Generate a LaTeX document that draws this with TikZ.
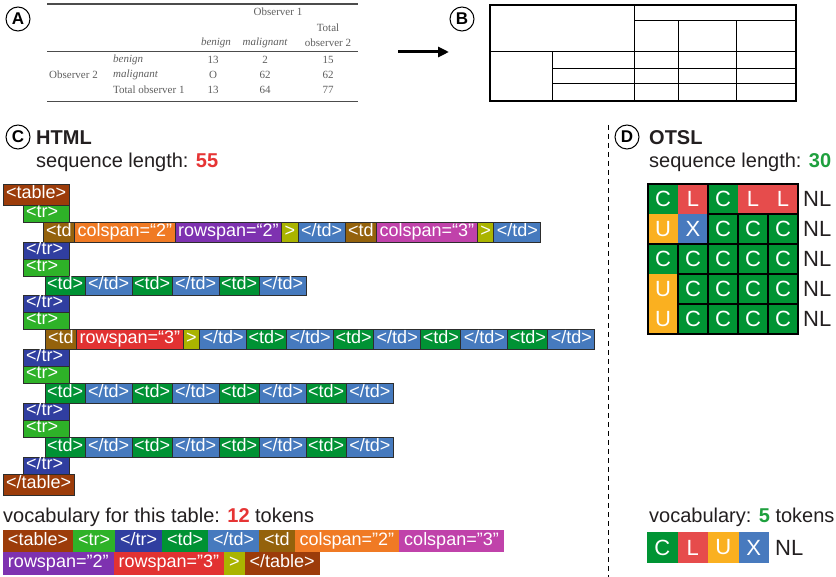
\documentclass[tikz,border=0pt]{standalone}
\usepackage{fontspec}
\setmainfont{Liberation Sans}
\newfontfamily\tabserif{Liberation Serif}
\usetikzlibrary{arrows.meta}

% token colours
\definecolor{cTable}{RGB}{156,60,10}
\definecolor{cTr}{RGB}{46,178,40}
\definecolor{cTrEnd}{RGB}{48,62,160}
\definecolor{cTd}{RGB}{0,146,52}
\definecolor{cTdEnd}{RGB}{70,122,190}
\definecolor{cTdOpen}{RGB}{148,98,12}
\definecolor{cColTwo}{RGB}{240,122,36}
\definecolor{cRowTwo}{RGB}{126,50,176}
\definecolor{cGt}{RGB}{170,180,0}
\definecolor{cColThree}{RGB}{192,66,170}
\definecolor{cRowThree}{RGB}{226,50,50}
% OTSL colours
\definecolor{otslC}{RGB}{0,148,52}
\definecolor{otslL}{RGB}{230,76,76}
\definecolor{otslU}{RGB}{250,176,32}
\definecolor{otslX}{RGB}{72,122,190}
% text colours
\definecolor{bodyink}{RGB}{35,31,32}
\definecolor{numRed}{RGB}{230,52,52}
\definecolor{numGreen}{RGB}{30,160,62}
\definecolor{tabgray}{RGB}{95,95,95}
\definecolor{tokline}{RGB}{45,45,45}

\newcommand\bodyfont{\fontsize{20}{24}\selectfont}
\newcommand\tokfont{\fontsize{18}{20}\selectfont}
\newcommand\cellfont{\fontsize{22}{24}\selectfont}
\newcommand\tabfont{\tabserif\fontsize{11}{13}\selectfont}

% \tokat[options]{name}{position}{fill}{height}{text}
\newcommand\tokat[6][]{\node[tok,fill=#4,minimum height=#5pt,#1] (#2) at (#3) {#6};}
% an opening <td> token: \tdtok{name}{position}{height}
\newcommand\tdtok[3]{\tokat[narrow]{#1}{#2}{cTd}{#3}{<td>}}
% a closing </td> token: \tdendtok{name}{position}{height}
\newcommand\tdendtok[3]{\tokat{#1}{#2}{cTdEnd}{#3}{</td>}}
% \vtokat{name}{position}{fill}{height}{text}
\newcommand\vtokat[5]{\node[vtok,fill=#3,minimum height=#4pt] (#1) at (#2) {#5};}

\tikzset{
  tok/.style={draw=tokline, line width=0.9pt, text=white, font=\tokfont,
    inner xsep=3pt, inner ysep=0pt, outer sep=0pt,
    text height=12.5pt, text depth=4pt, anchor=north west},
  narrow/.style={inner xsep=2pt},
  trbox/.style={tok, minimum width=46pt, text width=40pt, align=left},
  vtok/.style={text=white, font=\tokfont, inner xsep=5pt, inner ysep=0pt,
    outer sep=0pt, text height=12.5pt, text depth=4pt, anchor=north west},
  cell/.style={minimum size=30pt, inner sep=0pt, outer sep=0pt, text=white,
    font=\cellfont},
  lbl/.style={circle, draw=black, line width=1pt, minimum size=24pt,
    inner sep=0pt, font=\fontsize{17}{17}\selectfont\bfseries},
  tabtxt/.style={font=\tabfont, text=tabgray, inner sep=0pt},
  body/.style={font=\bodyfont, text=bodyink, inner sep=0pt, anchor=base west},
  grp/.style={draw=black, line width=1.6pt},
}

\begin{document}
\begin{tikzpicture}[x=1pt,y=-1pt]
\useasboundingbox[fill=white] (0,0) rectangle (836,577);

% ---------------- panel A: source table ----------------
\node[lbl] (labA) at (18,19) {A};
\draw[tabgray!80!black, line width=1.3pt] (47,4) -- (358,4);
\draw[tabgray!80!black, line width=1pt] (47,52) -- (358,52);
\draw[tabgray!80!black, line width=1pt] (47,102) -- (358,102);
\node[tabtxt] (aObs1) at (278,12) {Observer 1};
\node[tabtxt] (aHb) at (216,43) {\itshape benign};
\node[tabtxt] (aHm) at (265,43) {\itshape malignant};
\node[tabtxt] (aHt1) at (328,28) {Total};
\node[tabtxt] (aHt2) at (328,43) {observer 2};
\node[tabtxt, anchor=west] (aObs2) at (49,75) {Observer 2};
\node[tabtxt, anchor=west] (aRb) at (113,60) {\itshape benign};
\node[tabtxt, anchor=west] (aRm) at (113,75) {\itshape malignant};
\node[tabtxt, anchor=west] (aRt) at (113,90) {Total observer 1};
\node[tabtxt] (a11) at (213,60) {13};
\node[tabtxt] (a12) at (265,60) {2};
\node[tabtxt] (a13) at (328,60) {15};
\node[tabtxt] (a21) at (213,75) {O};
\node[tabtxt] (a22) at (265,75) {62};
\node[tabtxt] (a23) at (328,75) {62};
\node[tabtxt] (a31) at (213,90) {13};
\node[tabtxt] (a32) at (265,90) {64};
\node[tabtxt] (a33) at (328,90) {77};

% arrow between A and B
\coordinate (arrFrom) at (398,52);
\coordinate (arrTo) at (449,52);
\draw[line width=3pt, -{Triangle[length=11pt,width=10pt]}] (arrFrom) -- (arrTo);

% ---------------- panel B: table structure ----------------
\node[lbl] (labB) at (462,19) {B};
\draw[line width=1pt] (634,21) -- (796,21);
\draw[line width=1pt] (678,21) -- (678,101);
\draw[line width=1pt] (736,21) -- (736,101);
\draw[line width=1pt] (634,5) -- (634,101);
\draw[line width=1pt] (490,52) -- (796,52);
\draw[line width=1pt] (552,52) -- (552,101);
\draw[line width=1pt] (552,69) -- (796,69);
\draw[line width=1pt] (552,84) -- (796,84);
\draw[line width=2pt] (490,5) rectangle (796,101);

% ---------------- panel C: HTML ----------------
\node[lbl] (labC) at (18,137) {C};
\node[body, font=\bodyfont\bfseries] (htmlHead) at (36,145) {HTML};
\node[body] (htmlLen) at (36,168) {sequence length: \textbf{\color{numRed}55}};

\tokat{r1}{3,184}{cTable}{21}{<table>}
\node[trbox, fill=cTr, minimum height=17pt] (r2) at (23,205) {<tr>};
% first row of cells
\tokat{r3a}{43,222}{cTdOpen}{20}{<td}
\tokat{r3b}{r3a.north east}{cColTwo}{20}{colspan=“2”}
\tokat{r3c}{r3b.north east}{cRowTwo}{20}{rowspan=“2”}
\tokat{r3d}{r3c.north east}{cGt}{20}{>}
\tdendtok{r3e}{r3d.north east}{20}
\tokat{r3f}{r3e.north east}{cTdOpen}{20}{<td}
\tokat{r3g}{r3f.north east}{cColThree}{20}{colspan=“3”}
\tokat{r3h}{r3g.north east}{cGt}{20}{>}
\tdendtok{r3i}{r3h.north east}{20}
\node[trbox, fill=cTrEnd, minimum height=17pt] (r4) at (23,242) {</tr>};
\node[trbox, fill=cTr, minimum height=17pt] (r5) at (23,259) {<tr>};
% second row of cells
\tdtok{r6a}{45,276}{19}
\tdendtok{r6b}{r6a.north east}{19}
\tdtok{r6c}{r6b.north east}{19}
\tdendtok{r6d}{r6c.north east}{19}
\tdtok{r6e}{r6d.north east}{19}
\tdendtok{r6f}{r6e.north east}{19}
\node[trbox, fill=cTrEnd, minimum height=17pt] (r7) at (23,295) {</tr>};
\node[trbox, fill=cTr, minimum height=17pt] (r8) at (23,312) {<tr>};
% third row of cells
\tokat{r9a}{45,329}{cTdOpen}{20}{<td}
\tokat{r9b}{r9a.north east}{cRowThree}{20}{rowspan=“3”}
\tokat{r9c}{r9b.north east}{cGt}{20}{>}
\tdendtok{r9d}{r9c.north east}{20}
\tdtok{r9e}{r9d.north east}{20}
\tdendtok{r9f}{r9e.north east}{20}
\tdtok{r9g}{r9f.north east}{20}
\tdendtok{r9h}{r9g.north east}{20}
\tdtok{r9i}{r9h.north east}{20}
\tdendtok{r9j}{r9i.north east}{20}
\tdtok{r9k}{r9j.north east}{20}
\tdendtok{r9l}{r9k.north east}{20}
\node[trbox, fill=cTrEnd, minimum height=17pt] (r10) at (23,349) {</tr>};
\node[trbox, fill=cTr, minimum height=17pt] (r11) at (23,366) {<tr>};
% fourth row of cells
\tdtok{r12a}{45,383}{20}
\tdendtok{r12b}{r12a.north east}{20}
\tdtok{r12c}{r12b.north east}{20}
\tdendtok{r12d}{r12c.north east}{20}
\tdtok{r12e}{r12d.north east}{20}
\tdendtok{r12f}{r12e.north east}{20}
\tdtok{r12g}{r12f.north east}{20}
\tdendtok{r12h}{r12g.north east}{20}
\node[trbox, fill=cTrEnd, minimum height=17pt] (r13) at (23,403) {</tr>};
\node[trbox, fill=cTr, minimum height=17pt] (r14) at (23,420) {<tr>};
% fifth row of cells
\tdtok{r15a}{45,437}{20}
\tdendtok{r15b}{r15a.north east}{20}
\tdtok{r15c}{r15b.north east}{20}
\tdendtok{r15d}{r15c.north east}{20}
\tdtok{r15e}{r15d.north east}{20}
\tdendtok{r15f}{r15e.north east}{20}
\tdtok{r15g}{r15f.north east}{20}
\tdendtok{r15h}{r15g.north east}{20}
\node[trbox, fill=cTrEnd, minimum height=17pt] (r16) at (23,457) {</tr>};
\tokat{r17}{3,474}{cTable}{21}{</table>}

% HTML vocabulary
\node[body] (htmlVoc) at (3,522) {vocabulary for this table: \textbf{\color{numRed}12} tokens};
\vtokat{v1}{3,530}{cTable}{22}{<table>}
\vtokat{v2}{v1.north east}{cTr}{22}{<tr>}
\vtokat{v3}{v2.north east}{cTrEnd}{22}{</tr>}
\vtokat{v4}{v3.north east}{cTd}{22}{<td>}
\vtokat{v5}{v4.north east}{cTdEnd}{22}{</td>}
\vtokat{v6}{v5.north east}{cTdOpen}{22}{<td}
\vtokat{v7}{v6.north east}{cColTwo}{22}{colspan="2"}
\vtokat{v8}{v7.north east}{cColThree}{22}{colspan="3"}
\vtokat{v9}{3,552}{cRowTwo}{23}{rowspan="2"}
\vtokat{v10}{v9.north east}{cRowThree}{23}{rowspan="3"}
\vtokat{v11}{v10.north east}{cGt}{23}{>}
\vtokat{v12}{v11.north east}{cTable}{23}{</table>}

% divider between C and D
\coordinate (divTop) at (608,125);
\coordinate (divBot) at (608,577);
\draw[line width=0.9pt, dash pattern=on 5pt off 4pt] (divTop) -- (divBot);

% ---------------- panel D: OTSL ----------------
\node[lbl] (labD) at (627,137) {D};
\node[body, font=\bodyfont\bfseries] (otslHead) at (649,145) {OTSL};
\node[body] (otslLen) at (649,168) {sequence length: \textbf{\color{numGreen}30}};

\foreach \r/\row in {0/{C,L,C,L,L},1/{U,X,C,C,C},2/{C,C,C,C,C},3/{U,C,C,C,C},4/{U,C,C,C,C}}{
  \foreach \l [count=\c from 0] in \row {
    \node[cell, fill=otsl\l] (g-\r-\c) at ({663+30*\c},{199+30*\r}) {\l};
  }
  \node[font=\cellfont, text=bodyink, anchor=west, inner sep=0pt] (nl-\r) at (803,{199+30*\r}) {NL};
}
% merged-cell borders
\draw[grp] (g-0-0.north west) rectangle (g-1-1.south east);
\draw[grp] (g-0-2.north west) rectangle (g-0-4.south east);
\draw[grp] (g-2-0.north west) rectangle (g-4-0.south east);
\foreach \r/\c in {1/2,1/3,1/4,2/1,2/2,2/3,2/4,3/1,3/2,3/3,3/4,4/1,4/2,4/3,4/4}
  \draw[grp] (g-\r-\c.north west) rectangle (g-\r-\c.south east);
\draw[draw=black, line width=2.6pt] (g-0-0.north west) rectangle (g-4-4.south east);

% OTSL vocabulary
\node[body] (otslVoc) at (649,522) {vocabulary: \textbf{\color{numGreen}5} tokens};
\node[cell, anchor=north west, fill=otslC, minimum width=30.5pt, minimum height=31pt] (wC) at (647,532) {C};
\node[cell, anchor=north west, fill=otslL, minimum width=30.5pt, minimum height=31pt] (wL) at (wC.north east) {L};
\node[cell, anchor=north west, fill=otslU, minimum width=30.5pt, minimum height=31pt] (wU) at (wL.north east) {U};
\node[cell, anchor=north west, fill=otslX, minimum width=30.5pt, minimum height=31pt] (wX) at (wU.north east) {X};
\node[font=\cellfont, text=bodyink, anchor=west, inner sep=0pt] (wNL) at (775,547.5) {NL};
\end{tikzpicture}
\end{document}
